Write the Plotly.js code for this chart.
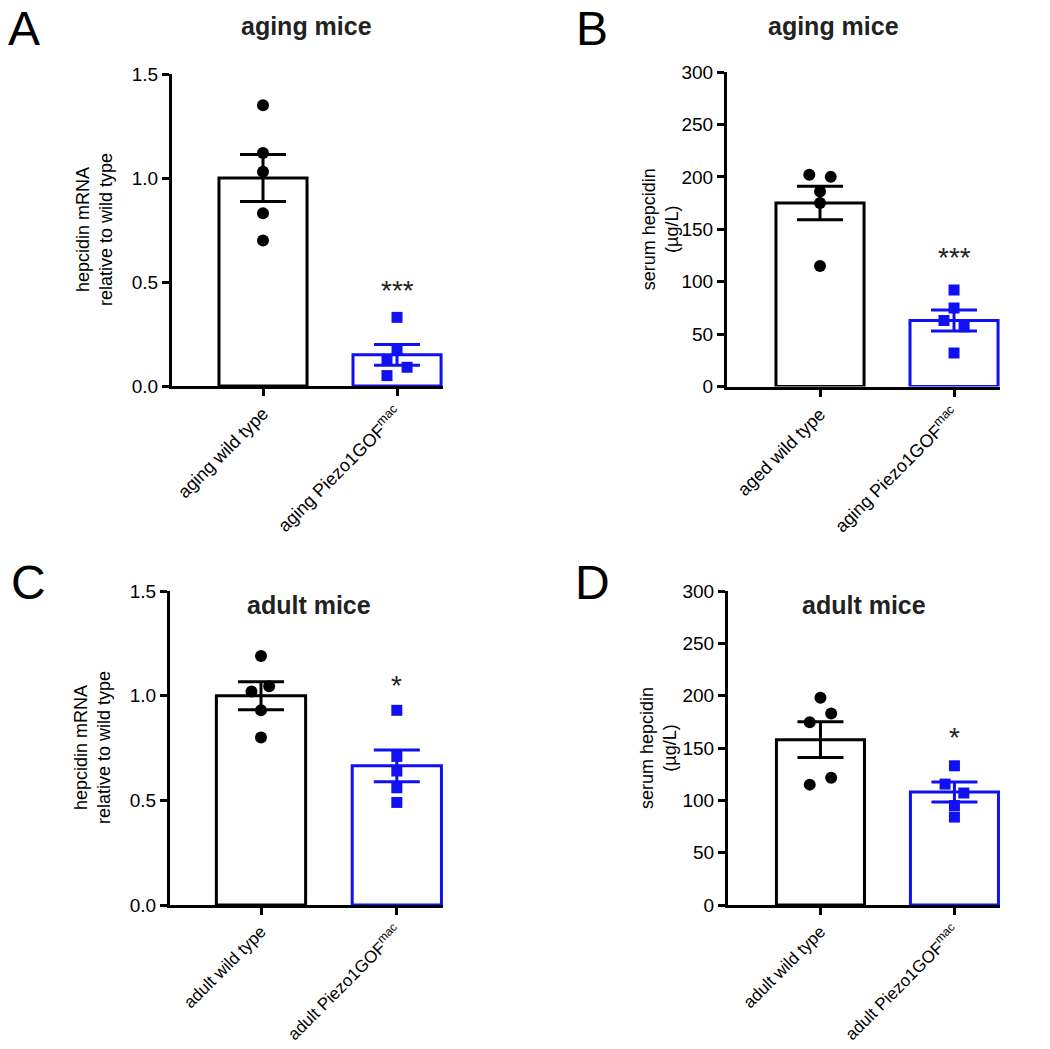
<!DOCTYPE html>
<html>
<head>
<meta charset="utf-8">
<script src="https://cdn.plot.ly/plotly-3.0.1.min.js"></script>
<style>html,body{margin:0;padding:0;background:#fff}#chart{width:1050px;height:1049px}</style>
</head>
<body>
<div id="chart"></div>
<script>
// ---------- data ----------
const catsA = ["aging wild type", "aging Piezo1GOF<sup>mac</sup>"];
const catsB = ["aged wild type", "aging Piezo1GOF<sup>mac</sup>"];
const catsC = ["adult wild type", "adult Piezo1GOF<sup>mac</sup>"];
const catsD = ["adult wild type", "adult Piezo1GOF<sup>mac</sup>"];

// panel A: hepcidin mRNA, aging
const meanA = [1.0, 0.15];
const semA = [0.113, 0.05];
const wtA = [1.35, 1.12, 1.03, 0.83, 0.70];
const wtA_dx = [0, 0, 0, 0, 0];
const gofA = [0.33, 0.18, 0.125, 0.09, 0.05];
const gofA_dx = [0, 0, -0.075, 0.075, -0.075];

// panel B: serum hepcidin, aging
const meanB = [175, 63];
const semB = [16, 10];
const wtB = [202, 200, 186, 175, 115];
const wtB_dx = [-0.08, 0.08, 0, 0, 0];
const gofB = [92, 75, 63, 57, 32];
const gofB_dx = [0, 0, -0.075, 0.075, 0];

// panel C: hepcidin mRNA, adult
const meanC = [1.0, 0.665];
const semC = [0.067, 0.076];
const wtC = [1.19, 1.045, 1.02, 0.93, 0.80];
const wtC_dx = [0, 0.06, -0.07, 0, 0];
const gofC = [0.93, 0.71, 0.64, 0.56, 0.49];
const gofC_dx = [0, 0, 0, 0, 0];

// panel D: serum hepcidin, adult
const meanD = [158, 108];
const semD = [17, 9.5];
const wtD = [198, 183, 174.5, 121.5, 115];
const wtD_dx = [0, 0.08, -0.08, 0.08, -0.08];
const gofD = [133, 115.5, 107, 95, 84];
const gofD_dx = [0, -0.07, 0.07, 0, 0];

const sig = ["***", "***", "*", "*"];
const panelLetters = ["A", "B", "C", "D"];
const panelTitles = ["aging mice", "aging mice", "adult mice", "adult mice"];
const yTitles = ["hepcidin mRNA<br>relative to wild type", "serum hepcidin<br>(µg/L)",
                 "hepcidin mRNA<br>relative to wild type", "serum hepcidin<br>(µg/L)"];

// ---------- styling ----------
const FONT = "Liberation Sans, Arial, Helvetica, sans-serif";
const BLACK = "#000000";
const BLUE = "#1010f5";
const colors = [BLACK, BLUE];

const panels = [
  {cats: catsA, mean: meanA, sem: semA, wt: wtA, wtdx: wtA_dx, gof: gofA, gofdx: gofA_dx, ymax: 1.5, dtick: 0.5, fmt: ".1f"},
  {cats: catsB, mean: meanB, sem: semB, wt: wtB, wtdx: wtB_dx, gof: gofB, gofdx: gofB_dx, ymax: 300, dtick: 50, fmt: "d"},
  {cats: catsC, mean: meanC, sem: semC, wt: wtC, wtdx: wtC_dx, gof: gofC, gofdx: gofC_dx, ymax: 1.5, dtick: 0.5, fmt: ".1f"},
  {cats: catsD, mean: meanD, sem: semD, wt: wtD, wtdx: wtD_dx, gof: gofD, gofdx: gofD_dx, ymax: 300, dtick: 50, fmt: "d"}
];

// pixel boxes of each plot area [x0, x1, yTop, yBottom]
const W = 1050, H = 1049;
const boxes = [
  [172, 443, 74, 386],
  [727, 1000, 72, 386.6],
  [170, 443, 591, 905],
  [728, 1000, 591, 905]
];
const xr = [[-0.679, 1.343], [-0.694, 1.343], [-0.67, 1.34], [-0.69, 1.34]];
const xTickSize = [18, 18, 17, 17];

const traces = [];
const layout = {
  width: W, height: H,
  margin: {l: 0, r: 0, t: 0, b: 0},
  paper_bgcolor: "#fff", plot_bgcolor: "rgba(0,0,0,0)",
  showlegend: false,
  font: {family: FONT, color: BLACK, size: 19},
  annotations: []
};

panels.forEach((p, i) => {
  const n = i + 1;
  const xa = "x" + (n === 1 ? "" : n), ya = "y" + (n === 1 ? "" : n);
  const xk = "xaxis" + (n === 1 ? "" : n), yk = "yaxis" + (n === 1 ? "" : n);
  const b = boxes[i];

  // bars with SEM error bars
  [0, 1].forEach(k => {
    traces.push({
      type: "bar", x: [k], y: [p.mean[k]], xaxis: xa, yaxis: ya,
      width: 0.657,
      marker: {color: "#ffffff", line: {color: colors[k], width: 3}},
      error_y: {type: "data", array: [p.sem[k]], visible: true, color: colors[k], thickness: 3, width: 23},
      hoverinfo: "skip"
    });
  });
  // individual points
  traces.push({
    type: "scatter", mode: "markers", xaxis: xa, yaxis: ya,
    x: p.wtdx.map(d => 0 + d), y: p.wt,
    marker: {symbol: "circle", size: 12, color: BLACK}
  });
  traces.push({
    type: "scatter", mode: "markers", xaxis: xa, yaxis: ya,
    x: p.gofdx.map(d => 1 + d), y: p.gof,
    marker: {symbol: "square", size: 11, color: BLUE}
  });

  layout[xk] = {
    domain: [b[0] / W, b[1] / W], anchor: ya, range: xr[i],
    tickmode: "array", tickvals: [0, 1], ticktext: p.cats, tickangle: -45,
    showline: true, linewidth: 3, linecolor: BLACK,
    ticks: "outside", ticklen: 7, tickwidth: 3, tickcolor: BLACK,
    showgrid: false, zeroline: false, fixedrange: true,
    tickfont: {family: FONT, size: xTickSize[i], color: BLACK}
  };
  layout[yk] = {
    domain: [1 - b[3] / H, 1 - b[2] / H], anchor: xa, range: [0, p.ymax],
    dtick: p.dtick, tick0: 0, tickformat: p.fmt,
    showline: true, linewidth: 3, linecolor: BLACK,
    ticks: "outside", ticklen: 7, tickwidth: 3, tickcolor: BLACK,
    showgrid: false, zeroline: false, fixedrange: true,
    tickfont: {family: FONT, size: 19, color: BLACK}
  };

  // significance stars
  layout.annotations.push({
    xref: xa, yref: ya, x: 1, y: [0.375, 106, 0.965, 143][i],
    text: sig[i], showarrow: false, yanchor: "bottom",
    font: {family: FONT, size: 28, color: "#222"}
  });
  // y axis titles
  layout.annotations.push({
    xref: "paper", yref: "paper",
    x: [94, 660, 92, 658][i] / W, y: 1 - ((b[2] + b[3]) / 2) / H,
    text: yTitles[i], showarrow: false, textangle: -90,
    xanchor: "center", yanchor: "middle",
    font: {family: FONT, size: 18, color: BLACK}
  });
});

// panel letters & titles
const letterPos = [[24, 0], [592, 0], [28, 554], [592, 554]];
const titlePos = [[306, 26], [833, 26], [309, 605], [864, 605]];
panels.forEach((p, i) => {
  layout.annotations.push({
    xref: "paper", yref: "paper", x: letterPos[i][0] / W, y: 1 - letterPos[i][1] / H,
    text: panelLetters[i], showarrow: false, xanchor: "center", yanchor: "top",
    font: {family: FONT, size: 48, color: BLACK}
  });
  layout.annotations.push({
    xref: "paper", yref: "paper", x: titlePos[i][0] / W, y: 1 - titlePos[i][1] / H,
    text: "<b>" + panelTitles[i] + "</b>", showarrow: false, xanchor: "center", yanchor: "middle",
    font: {family: FONT, size: 25, color: "#222"}
  });
});

Plotly.newPlot("chart", traces, layout, {displayModeBar: false, staticPlot: true});
</script>
</body>
</html>
